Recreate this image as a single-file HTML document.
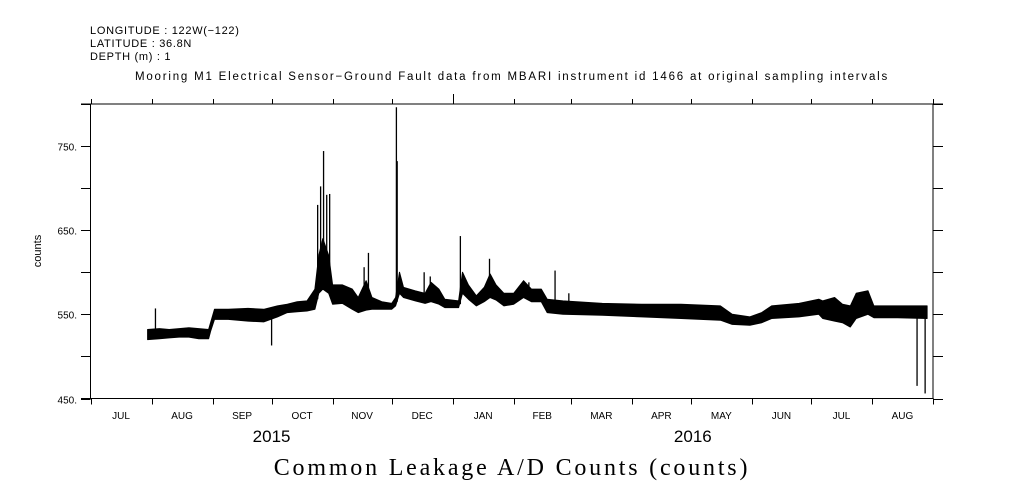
<!DOCTYPE html>
<html><head><meta charset="utf-8"><style>
html,body{margin:0;padding:0;background:#fff;}
svg{display:block;}
text{font-family:"Liberation Sans",sans-serif;fill:#000;}
</style></head><body>
<svg id="chart" width="1009" height="504" viewBox="0 0 1009 504" xmlns="http://www.w3.org/2000/svg">
<text x="90" y="34" font-size="11" letter-spacing="0.7">LONGITUDE : 122W(−122)</text>
<text x="90" y="47" font-size="11" letter-spacing="0.7">LATITUDE : 36.8N</text>
<text x="90" y="60" font-size="11" letter-spacing="0.7">DEPTH (m) : 1</text>
<text x="512" y="80" font-size="11.5" text-anchor="middle" letter-spacing="1.8">Mooring M1 Electrical Sensor−Ground Fault data from MBARI instrument id 1466 at original sampling intervals</text>
<text transform="translate(41,251) rotate(-90)" font-size="11" text-anchor="middle">counts</text>
<text x="512" y="475" font-size="24" text-anchor="middle" letter-spacing="2.8" style="font-family:'Liberation Serif',serif">Common Leakage A/D Counts (counts)</text>
<g id="axes"></g>
<g id="series"></g>
</svg>
<script>
const yTickVals=[450,500,550,600,650,700,750,800];
const yTickLabels=["450.","","550.","","650.","","750.",""];
const monthLabels=["JUL","AUG","SEP","OCT","NOV","DEC","JAN","FEB","MAR","APR","MAY","JUN","JUL","AUG"];
const monthStarts=[0,31,62,92,123,153,184,215,244,275,305,336,366,397,428];
const yearLabels=["2015","2016"];
const yearDays=[92,306];
const days=[29,35,40,45,50,55,60,61,63,70,80,88,95,100,105,110,114,116,118,121,123,128,133,136,140,143,148,153,155,157,159,165,170,173,177,180,187,189,192,196,200,203,206,210,215,220,224,229,232,240,260,280,300,320,326,335,341,346,360,370,372,378,382,386,389,395,398,410,425];
const lows=[520,521,522,523,523,521,521,530,544,544,542,541,547,552,553,554,556,575,580,575,562,563,556,552,555,556,556,556,560,575,570,566,563,565,562,558,558,575,568,560,565,570,567,560,562,570,565,565,552,550,549,547,545,543,538,537,540,545,547,550,545,542,540,535,545,550,546,546,545];
const highs=[532,533,532,533,534,533,532,540,556,556,557,556,560,562,565,566,580,620,640,620,585,585,580,570,590,570,565,563,570,600,582,578,575,588,580,568,566,600,585,572,582,598,585,575,575,590,580,580,568,566,563,562,562,560,550,547,552,560,563,568,566,570,562,560,575,578,560,560,560];
const spikeDays=[33,92,115.4,116.9,118.4,120,121.5,139,141.2,155.4,155.8,169.5,172.6,187.9,202.7,222.7,236,243,419.9,424];
const spikeVals=[557,513,680,702,744,692,693,606,623,796,732,600,595,643,616,588,602,575,465,456];

const X0=90.5,X1=933,D1=428,Y0=398.5,YPX=0.8417;
const xs=d=>X0+(X1-X0)*d/D1;
const ys=v=>Y0-(v-450)*YPX;
const NS="http://www.w3.org/2000/svg";
const ax=document.getElementById('axes'), se=document.getElementById('series');
function mk(tag,attrs,parent){const e=document.createElementNS(NS,tag);for(const k in attrs)e.setAttribute(k,attrs[k]);parent.appendChild(e);return e;}
function ln(x1,y1,x2,y2,p){return mk('line',{x1,y1,x2,y2,stroke:'#000','stroke-width':1,'shape-rendering':'crispEdges'},p);}
let e;
e=ln(81,104,X1+10,104,ax);


e=ln(81,Y0,X1,Y0,ax);


e=ln(X0,104,X0,Y0,ax);


e=ln(X1,104,X1,Y0,ax);


yTickVals.forEach((v,i)=>{
  const y=Math.round(ys(v))+0.5;
  if(y<100) return;
  let t=ln(81,y,X0,y,ax);
  
  
  t=ln(X1,y,X1+10,y,ax);
  
  
  if(yTickLabels[i]){
    const tx=mk('text',{x:77,y:y+4,'font-size':10,'text-anchor':'end'},ax);
    tx.textContent=yTickLabels[i];
    
    
  }
});
monthStarts.forEach((d,i)=>{
  const x=Math.round(xs(d))+0.5;
  let t=ln(x,Y0,x,Y0+6,ax);
  
  
  t=ln(x,104,x,d===184?94:99,ax);
  
  
  if(i<monthLabels.length){
    const mid=(d+monthStarts[i+1])/2;
    const tx=mk('text',{x:xs(mid),y:419,'font-size':10,'text-anchor':'middle'},ax);
    tx.textContent=monthLabels[i];
    
    
  }
});
yearLabels.forEach((s,i)=>{
  const tx=mk('text',{x:xs(yearDays[i]),y:442,'font-size':17,'text-anchor':'middle'},ax);
  tx.textContent=s;
  
  
});
let pts=[];
days.forEach((d,i)=>pts.push(xs(d).toFixed(1)+','+ys(highs[i]).toFixed(1)));
for(let i=days.length-1;i>=0;i--)pts.push(xs(days[i]).toFixed(1)+','+ys(lows[i]).toFixed(1));
const band=mk('polygon',{points:pts.join(' '),fill:'#000',stroke:'#000','stroke-width':1,'stroke-linejoin':'round'},se);


function baseAt(d){let j=0;while(j<days.length-1&&days[j+1]<d)j++;return (lows[j]+highs[j])/2;}
spikeDays.forEach((d,i)=>{
  const x=xs(d);
  const s=mk('line',{x1:x,y1:ys(baseAt(d)),x2:x,y2:ys(spikeVals[i]),stroke:'#000','stroke-width':1.3},se);
  
  
});
</script>
</body></html>
